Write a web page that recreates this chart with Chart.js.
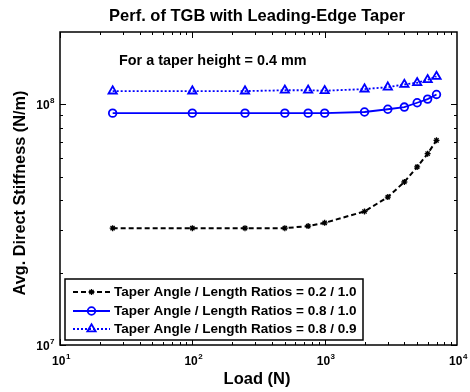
<!DOCTYPE html>
<html>
<head>
<meta charset="utf-8">
<title>Perf. of TGB with Leading-Edge Taper</title>
<script src="https://cdn.jsdelivr.net/npm/chart.js"></script>
<style>
  html, body { margin: 0; padding: 0; background: #fff; }
  #wrap { width: 470px; height: 392px; }
</style>
</head>
<body>
<div id="wrap"><canvas id="stiffChart" width="470" height="392"></canvas></div>
<script>
// load points (N)
const loads = [25, 100, 250, 500, 750, 1000, 2000, 3000, 4000, 5000, 6000, 7000];
// average direct stiffness (N/m) for each taper geometry
const stiffA = [3.06e7, 3.06e7, 3.06e7, 3.06e7, 3.12e7, 3.22e7, 3.59e7, 4.12e7, 4.76e7, 5.5e7, 6.24e7, 7.09e7];
const stiffB = [9.2e7, 9.2e7, 9.2e7, 9.2e7, 9.2e7, 9.2e7, 9.3e7, 9.55e7, 9.75e7, 1.016e8, 1.052e8, 1.1e8];
const stiffC = [1.136e8, 1.136e8, 1.136e8, 1.145e8, 1.145e8, 1.14e8, 1.158e8, 1.18e8, 1.21e8, 1.23e8, 1.266e8, 1.306e8];

const seriesLabels = [
  "Taper Angle / Length Ratios = 0.2 / 1.0",
  "Taper Angle / Length Ratios = 0.8 / 1.0",
  "Taper Angle / Length Ratios = 0.8 / 0.9",
];

const xMajor = [1, 2, 3, 4];   // exponents of 10 on the load axis
const yMajor = [7, 8];         // exponents of 10 on the stiffness axis

const FONT = '"Liberation Sans", Arial, sans-serif';

function pairs(ys) {
  return loads.map((x, i) => ({ x: x, y: ys[i] }));
}

// powers of ten written as 10 with a raised exponent
function drawPow(ctx, exp, x, y, align) {
  ctx.save();
  ctx.fillStyle = "#000";
  ctx.textBaseline = "alphabetic";
  ctx.font = "bold 12px " + FONT;
  const base = ctx.measureText("10").width;
  ctx.font = "bold 8px " + FONT;
  const sup = ctx.measureText(String(exp)).width;
  let left = x;
  if (align === "center") left = x - (base + sup) / 2;
  if (align === "right") left = x - base - sup;
  ctx.font = "bold 12px " + FONT;
  ctx.textAlign = "left";
  ctx.fillText("10", left, y);
  ctx.font = "bold 8px " + FONT;
  ctx.fillText(String(exp), left + base + 0.5, y - 6);
  ctx.restore();
}

const axesFrame = {
  id: "axesFrame",
  afterDatasetsDraw(chart) {
    const { ctx, chartArea: a, scales } = chart;
    const xs = scales.x, ys = scales.y;

    ctx.save();
    ctx.strokeStyle = "#000";
    ctx.lineWidth = 1;
    // inward ticks on all four sides
    for (let e = 1; e < 4; e++) {
      for (let m = 1; m < 10; m++) {
        const v = m * Math.pow(10, e);
        const px = Math.round(xs.getPixelForValue(v)) + 0.5;
        const len = m === 1 ? 6 : 3;
        ctx.beginPath();
        ctx.moveTo(px, a.bottom); ctx.lineTo(px, a.bottom - len);
        ctx.moveTo(px, a.top); ctx.lineTo(px, a.top + len);
        ctx.stroke();
      }
    }
    for (let m = 1; m < 10; m++) {
      const v = m * 1e7;
      const py = Math.round(ys.getPixelForValue(v)) + 0.5;
      const len = m === 1 ? 6 : 3;
      ctx.beginPath();
      ctx.moveTo(a.left, py); ctx.lineTo(a.left + len, py);
      ctx.moveTo(a.right, py); ctx.lineTo(a.right - len, py);
      ctx.stroke();
    }
    {
      const py = Math.round(ys.getPixelForValue(1e8)) + 0.5;
      ctx.beginPath();
      ctx.moveTo(a.left, py); ctx.lineTo(a.left + 6, py);
      ctx.moveTo(a.right, py); ctx.lineTo(a.right - 6, py);
      ctx.stroke();
    }

    // plot box
    ctx.lineWidth = 1.5;
    ctx.strokeRect(a.left, a.top, a.right - a.left, a.bottom - a.top);
    ctx.restore();

    // tick labels
    xMajor.forEach(e => drawPow(ctx, e, xs.getPixelForValue(Math.pow(10, e)) + 1, a.bottom + 20, "center"));
    yMajor.forEach(e => drawPow(ctx, e, a.left - 6, ys.getPixelForValue(Math.pow(10, e)) + 5, "right"));

    // title, axis names, note
    ctx.save();
    ctx.fillStyle = "#000";
    ctx.textAlign = "center";
    ctx.textBaseline = "middle";
    ctx.font = "bold 16.5px " + FONT;
    ctx.fillText("Perf. of TGB with Leading-Edge Taper", 257, 16);
    ctx.font = "bold 16.5px " + FONT;
    ctx.fillText("Load (N)", 257, 379);
    ctx.save();
    ctx.translate(21, 193);
    ctx.rotate(-Math.PI / 2);
    ctx.font = "bold 16.3px " + FONT;
    ctx.fillText("Avg. Direct Stiffness (N/m)", 0, 0);
    ctx.restore();
    ctx.textAlign = "left";
    ctx.font = "bold 14.4px " + FONT;
    ctx.fillText("For a taper height = 0.4 mm", 119, 61);
    ctx.restore();

    // legend box in the lower left corner
    const box = { x: 65, y: 279, w: 298, h: 61 };
    ctx.save();
    ctx.fillStyle = "#fff";
    ctx.fillRect(box.x, box.y, box.w, box.h);
    ctx.strokeStyle = "#000";
    ctx.lineWidth = 1.5;
    ctx.strokeRect(box.x, box.y, box.w, box.h);
    const rowY = [292, 311, 329];
    chart.data.datasets.forEach((ds, i) => {
      const y = rowY[i];
      ctx.save();
      ctx.strokeStyle = ds.borderColor;
      ctx.lineWidth = ds.borderWidth;
      ctx.setLineDash(ds.borderDash || []);
      ctx.beginPath();
      ctx.moveTo(73, y); ctx.lineTo(110, y);
      ctx.stroke();
      ctx.restore();
      // drawPoint paints with whatever styles the context holds
      ctx.save();
      ctx.strokeStyle = ds.pointBorderColor;
      ctx.fillStyle = "rgba(255,255,255,0)";
      ctx.lineWidth = ds.pointBorderWidth;
      ctx.setLineDash([]);
      Chart.helpers.drawPoint(ctx, {
        pointStyle: ds.pointStyle,
        radius: ds.pointRadius,
        borderWidth: ds.pointBorderWidth,
        rotation: 0,
      }, 91.5, y);
      ctx.restore();
      ctx.fillStyle = "#000";
      ctx.textAlign = "left";
      ctx.textBaseline = "middle";
      ctx.font = "bold 13.5px " + FONT;
      ctx.fillText(seriesLabels[i], 114, y + 0.5);
    });
    ctx.restore();
  },
};

const ctx = document.getElementById("stiffChart").getContext("2d");
const chart = new Chart(ctx, {
  type: "line",
  data: {
    datasets: [
      {
        label: seriesLabels[0],
        data: pairs(stiffA),
        borderColor: "#000",
        borderWidth: 2,
        borderDash: [5, 3],
        pointStyle: "star",
        pointRadius: 3,
        pointBorderWidth: 1.3,
        pointBorderColor: "#000",
        pointBackgroundColor: "rgba(0,0,0,0)",
        tension: 0,
      },
      {
        label: seriesLabels[1],
        data: pairs(stiffB),
        borderColor: "#0000ff",
        borderWidth: 1.8,
        pointStyle: "circle",
        pointRadius: 3.8,
        pointBorderWidth: 1.8,
        pointBorderColor: "#0000ff",
        pointBackgroundColor: "rgba(0,0,0,0)",
        tension: 0,
      },
      {
        label: seriesLabels[2],
        data: pairs(stiffC),
        borderColor: "#0000ff",
        borderWidth: 1.8,
        borderDash: [2, 2],
        pointStyle: "triangle",
        pointRadius: 4.8,
        pointBorderWidth: 1.8,
        pointBorderColor: "#0000ff",
        pointBackgroundColor: "rgba(0,0,0,0)",
        tension: 0,
      },
    ],
  },
  options: {
    responsive: false,
    animation: false,
    devicePixelRatio: 1,
    layout: { padding: { left: 60, right: 13, top: 32, bottom: 47 } },
    scales: {
      x: { type: "logarithmic", min: 10, max: 10000, display: false },
      y: { type: "logarithmic", min: 1e7, max: 2e8, display: false },
    },
    plugins: {
      legend: { display: false },
      tooltip: { enabled: false },
    },
  },
  plugins: [axesFrame],
});
</script>
</body>
</html>
